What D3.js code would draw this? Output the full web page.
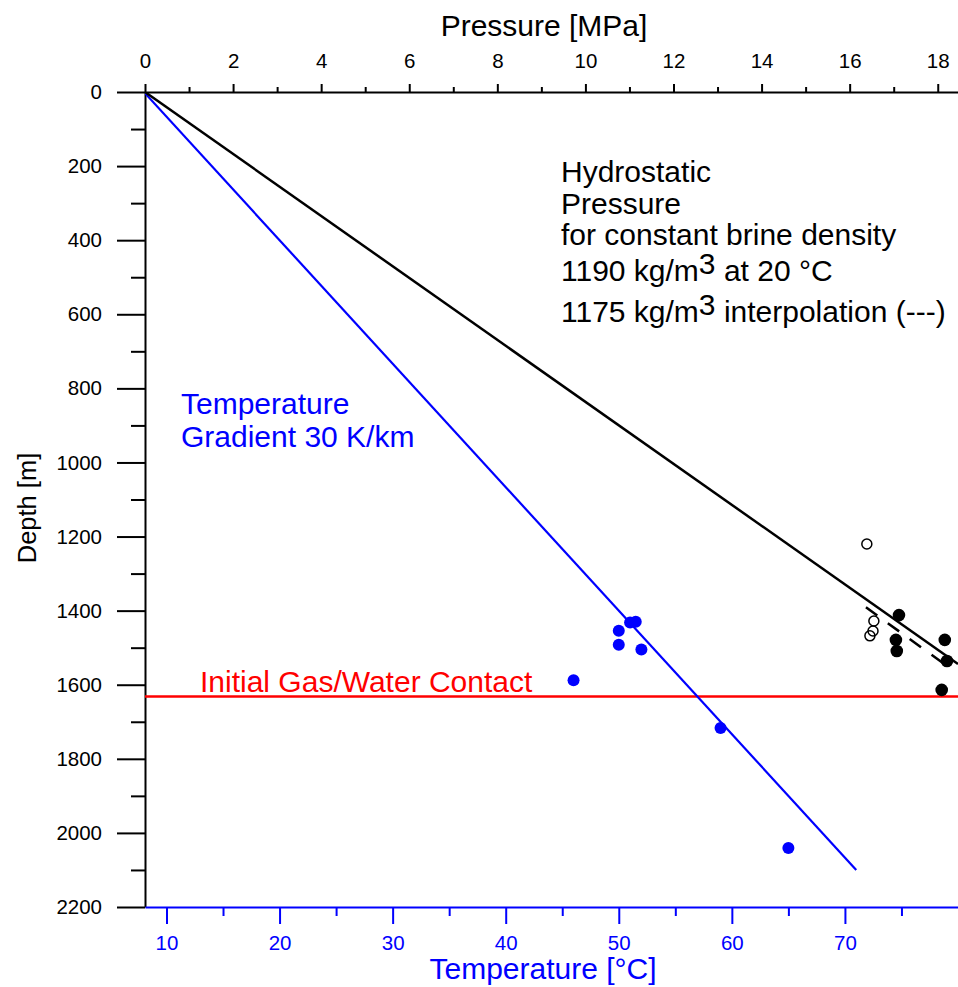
<!DOCTYPE html>
<html>
<head>
<meta charset="utf-8">
<script src="https://cdn.jsdelivr.net/npm/d3@7"></script>
<style>
  body { margin: 0; background: #fff; }
  svg text { font-family: "Liberation Sans", Arial, sans-serif; }
</style>
</head>
<body>
<svg id="chart"></svg>
<script>
// pressure profile: [pressure MPa, depth m]
const hydrostatic = [[0, 0], [18.46, 1544]];
const interpolation = [[16.37, 1391], [18.25, 1553]];
const pressureFilled = [[17.12, 1412], [17.05, 1479], [17.07, 1509], [18.16, 1479], [18.21, 1536], [18.09, 1614]];
const pressureOpen = [[16.39, 1220], [16.55, 1428], [16.53, 1455], [16.46, 1468]];

// temperature profile: [temperature °C, depth m]
const gradient30 = [[8, 0], [71, 2100]];
const temperaturePoints = [[46, 1588], [50, 1454], [50, 1492], [51, 1432], [51.5, 1430], [52, 1505], [59, 1717], [65, 2041]];

const gasWaterContact = 1632;

const depthTicks = d3.range(0, 2201, 200);
const depthMinor = d3.range(100, 2200, 200);
const pressureTicks = d3.range(0, 19, 2);
const pressureMinor = d3.range(1, 18, 2);
const tempTicks = d3.range(10, 71, 10);
const tempMinor = d3.range(15, 80, 10);

const hydroText = ['Hydrostatic', 'Pressure', 'for constant brine density'];
const densityText = [['1190 kg/m', '3', ' at 20 °C'], ['1175 kg/m', '3', ' interpolation (---)']];
const gradientText = ['Temperature', 'Gradient 30 K/km'];

const width = 958;
const height = 987;
const plotLeft = 145, plotRight = 958, plotTop = 92, plotBottom = 907;
const bigFont = 30;

const svg = d3.select('#chart')
  .attr('width', width)
  .attr('height', height);

const scaleP = d3.scaleLinear().domain([0, 18.46]).range([plotLeft, plotRight]);
const scaleT = d3.scaleLinear().domain([8.1, 80]).range([plotLeft, plotRight]);
const scaleD = d3.scaleLinear().domain([0, 2200]).range([plotTop, plotBottom]);

svg.append('clipPath').attr('id', 'plot')
  .append('rect')
  .attr('x', plotLeft).attr('y', plotTop)
  .attr('width', plotRight - plotLeft).attr('height', plotBottom - plotTop);

// axes
const styleAxis = (g, color) => {
  g.attr('font-size', 20.5).attr('font-family', '"Liberation Sans", Arial, sans-serif');
  g.selectAll('path').attr('stroke', color).attr('stroke-width', 2);
  g.selectAll('line').attr('stroke', color).attr('stroke-width', 2);
  g.selectAll('text').attr('fill', color);
};

svg.append('g')
  .attr('transform', `translate(${plotLeft},0)`)
  .call(d3.axisLeft(scaleD).tickValues(depthMinor).tickSize(14).tickFormat(''))
  .call(g => g.select('path').remove())
  .call(g => styleAxis(g, '#000'));

svg.append('g')
  .attr('transform', `translate(${plotLeft},0)`)
  .call(d3.axisLeft(scaleD).tickValues(depthTicks).tickSize(28).tickSizeOuter(0)
    .tickPadding(15).tickFormat(d3.format('d')))
  .call(g => styleAxis(g, '#000'));

svg.append('g')
  .attr('transform', `translate(0,${plotTop})`)
  .call(d3.axisTop(scaleP).tickValues(pressureMinor).tickSize(5).tickFormat(''))
  .call(g => g.select('path').remove())
  .call(g => styleAxis(g, '#000'));

svg.append('g')
  .attr('transform', `translate(0,${plotTop})`)
  .call(d3.axisTop(scaleP).tickValues(pressureTicks).tickSize(8).tickSizeOuter(0)
    .tickPadding(16).tickFormat(d3.format('d')))
  .call(g => styleAxis(g, '#000'));

svg.append('g')
  .attr('transform', `translate(0,${plotBottom})`)
  .call(d3.axisBottom(scaleT).tickValues(tempMinor).tickSize(9).tickFormat(''))
  .call(g => g.select('path').remove())
  .call(g => styleAxis(g, '#0000ff'));

svg.append('g')
  .attr('transform', `translate(0,${plotBottom})`)
  .call(d3.axisBottom(scaleT).tickValues(tempTicks).tickSize(17).tickSizeOuter(0)
    .tickPadding(11).tickFormat(d3.format('d')))
  .call(g => styleAxis(g, '#0000ff'));

// axis titles
svg.append('text')
  .attr('x', 544).attr('y', 36)
  .attr('text-anchor', 'middle')
  .attr('font-size', bigFont)
  .text('Pressure [MPa]');

svg.append('text')
  .attr('x', 543).attr('y', 979)
  .attr('text-anchor', 'middle')
  .attr('font-size', bigFont)
  .attr('fill', '#0000ff')
  .text('Temperature [°C]');

svg.append('text')
  .attr('transform', 'translate(36,508) rotate(-90)')
  .attr('text-anchor', 'middle')
  .attr('font-size', 25.5)
  .text('Depth [m]');

// lines
const plot = svg.append('g').attr('clip-path', 'url(#plot)');

const lineP = d3.line().x(d => scaleP(d[0])).y(d => scaleD(d[1]));
const lineT = d3.line().x(d => scaleT(d[0])).y(d => scaleD(d[1]));

plot.append('line')
  .attr('x1', plotLeft).attr('x2', plotRight)
  .attr('y1', scaleD(gasWaterContact)).attr('y2', scaleD(gasWaterContact))
  .attr('stroke', '#ff0000')
  .attr('stroke-width', 2.5);

plot.append('path')
  .datum(gradient30)
  .attr('d', lineT)
  .attr('fill', 'none')
  .attr('stroke', '#0000ff')
  .attr('stroke-width', 2.2);

plot.append('path')
  .datum(hydrostatic)
  .attr('d', lineP)
  .attr('fill', 'none')
  .attr('stroke', '#000')
  .attr('stroke-width', 2.5);

plot.append('path')
  .datum(interpolation)
  .attr('d', lineP)
  .attr('fill', 'none')
  .attr('stroke', '#000')
  .attr('stroke-width', 2.5)
  .attr('stroke-dasharray', '14,13');

// points
plot.selectAll('circle.temp')
  .data(temperaturePoints)
  .enter().append('circle')
  .attr('class', 'temp')
  .attr('cx', d => scaleT(d[0]))
  .attr('cy', d => scaleD(d[1]))
  .attr('r', 6)
  .attr('fill', '#0000ff');

plot.selectAll('circle.open')
  .data(pressureOpen)
  .enter().append('circle')
  .attr('class', 'open')
  .attr('cx', d => scaleP(d[0]))
  .attr('cy', d => scaleD(d[1]))
  .attr('r', 5)
  .attr('fill', 'none')
  .attr('stroke', '#000')
  .attr('stroke-width', 1.5);

plot.selectAll('circle.filled')
  .data(pressureFilled)
  .enter().append('circle')
  .attr('class', 'filled')
  .attr('cx', d => scaleP(d[0]))
  .attr('cy', d => scaleD(d[1]))
  .attr('r', 6.3)
  .attr('fill', '#000');

// annotations
svg.append('text')
  .attr('x', 200).attr('y', 692)
  .attr('font-size', bigFont)
  .attr('fill', '#ff0000')
  .text('Initial Gas/Water Contact');

svg.selectAll('text.grad')
  .data(gradientText)
  .enter().append('text')
  .attr('class', 'grad')
  .attr('x', 181)
  .attr('y', (d, i) => 414 + i * 32.5)
  .attr('font-size', bigFont)
  .attr('fill', '#0000ff')
  .text(d => d);

svg.selectAll('text.hydro')
  .data(hydroText)
  .enter().append('text')
  .attr('class', 'hydro')
  .attr('x', 561)
  .attr('y', (d, i) => 182 + i * 31.5)
  .attr('font-size', bigFont)
  .text(d => d);

const density = svg.selectAll('text.density')
  .data(densityText)
  .enter().append('text')
  .attr('class', 'density')
  .attr('x', 561)
  .attr('y', (d, i) => 281 + i * 41)
  .attr('font-size', bigFont);

density.append('tspan').text(d => d[0]);
density.append('tspan').attr('dy', -7).text(d => d[1]);
density.append('tspan').attr('dy', 7).text(d => d[2]);
</script>
</body>
</html>
